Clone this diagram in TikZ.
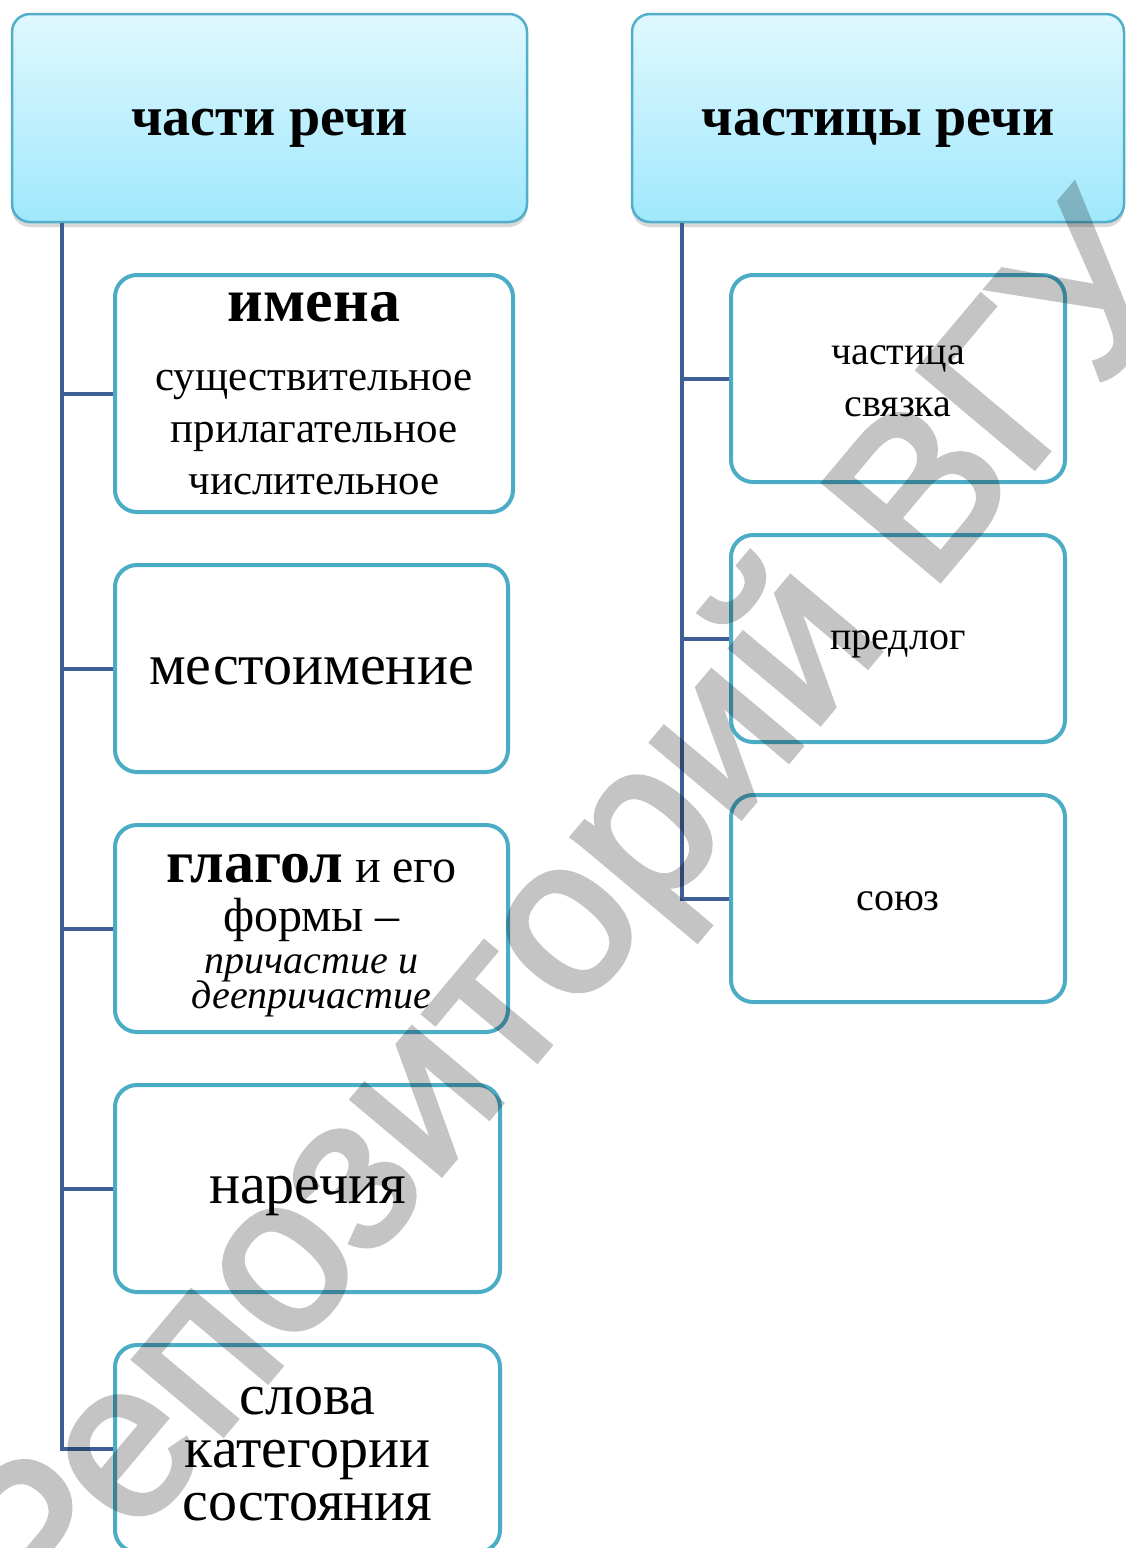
\documentclass[tikz,border=0pt]{standalone}
\usepackage{fontspec}
\setmainfont{Liberation Serif}
\newfontfamily\wmfont[FakeBold=2.5]{Liberation Sans}
\usetikzlibrary{shadows,calc}
\definecolor{boxc}{HTML}{4BACC6}
\definecolor{headc}{HTML}{52AECA}
\definecolor{connc}{HTML}{3D5F96}
\definecolor{htop}{HTML}{E0F8FE}
\definecolor{hbot}{HTML}{A0E8FC}
\newcommand{\dropdown}[2]{\raisebox{-#1}[\height][\depth]{#2}}
\begin{document}
\lineskiplimit=-100pt\relax
\begin{tikzpicture}[x=1pt,y=-1pt,
  header/.style={rectangle, rounded corners=18pt, draw=headc, line width=2.5pt,
    top color=htop, bottom color=hbot, minimum height=208pt, inner sep=0pt,
    drop shadow={shadow xshift=0pt, shadow yshift=-5pt, opacity=0.3},
    font={\fontsize{56}{60}\selectfont\bfseries}},
  box/.style={rectangle, rounded corners=22pt, draw=boxc, line width=4pt,
    fill=white, inner sep=0pt, align=center, minimum height=207pt},
  conn/.style={draw=connc, line width=4pt},
  wm/.style={text=black, font={\wmfont\fontsize{220}{220}\selectfont}}
]
\useasboundingbox (0,0) rectangle (1125,1548);

% headers
\node[header, minimum width=515pt] (h1) at (269.5,118) {\dropdown{10pt}{части речи}};
\node[header, minimum width=492pt] (h2) at (878,118) {\dropdown{10pt}{частицы речи}};

% left boxes
\node[box, minimum width=398pt, minimum height=237pt,
  font={\fontsize{43}{52}\selectfont}] (b1) at (314,393.5)
  {{\fontsize{62}{62}\selectfont\bfseries имена}\\[17pt]существительное\\прилагательное\\числительное};
\node[box, minimum width=393pt, font={\fontsize{58}{60}\selectfont}] (b2) at (311.5,668.5) {\dropdown{3pt}{местоимение}};
\node[box, minimum width=393pt,
  font={\fontsize{40}{35}\selectfont}] (b3) at (311.5,928.5)
  {\rule{0pt}{42pt}{\fontsize{60}{60}\selectfont\bfseries глагол}{\fontsize{48}{48}\selectfont\ и его}\\[14pt]{\fontsize{48}{48}\selectfont формы –}\\[7pt]\itshape причастие и\\\itshape деепричастие};
\node[box, minimum width=385pt, font={\fontsize{58}{60}\selectfont}] (b4) at (307.5,1188.5) {\dropdown{7pt}{наречия}};
\node[box, minimum width=385pt,
  font={\fontsize{58}{53}\selectfont}] (b5) at (307.5,1448.5)
  {\rule{0pt}{38pt}слова\\категории\\состояния};

% right boxes
\node[box, minimum width=334pt,
  font={\fontsize{40}{52}\selectfont}] (r1) at (898,378.5) {\rule{0pt}{25pt}частица\\связка};
\node[box, minimum width=334pt, font={\fontsize{40}{52}\selectfont}] (r2) at (898,638.5) {\dropdown{6pt}{предлог}};
\node[box, minimum width=334pt, font={\fontsize{40}{52}\selectfont}] (r3) at (898,898.5) {\dropdown{3pt}{союз}};

% connectors
\coordinate (ltop) at ([xshift=51pt]h1.south west);
\coordinate (rtop) at ([xshift=51pt]h2.south west);
\draw[conn] (ltop) |- (b5.west);
\foreach \b in {b1,b2,b3,b4} \draw[conn] (\b.west -| ltop) -- (\b.west);
\draw[conn] (rtop) |- (r3.west);
\foreach \b in {r1,r2} \draw[conn] (\b.west -| rtop) -- (\b.west);

% watermark
\begin{scope}[transparency group, opacity=0.23]
\node[wm, rotate=50] (wmark) at (573,926) {Репозиторий ВГУ};
\end{scope}
\end{tikzpicture}
\end{document}
